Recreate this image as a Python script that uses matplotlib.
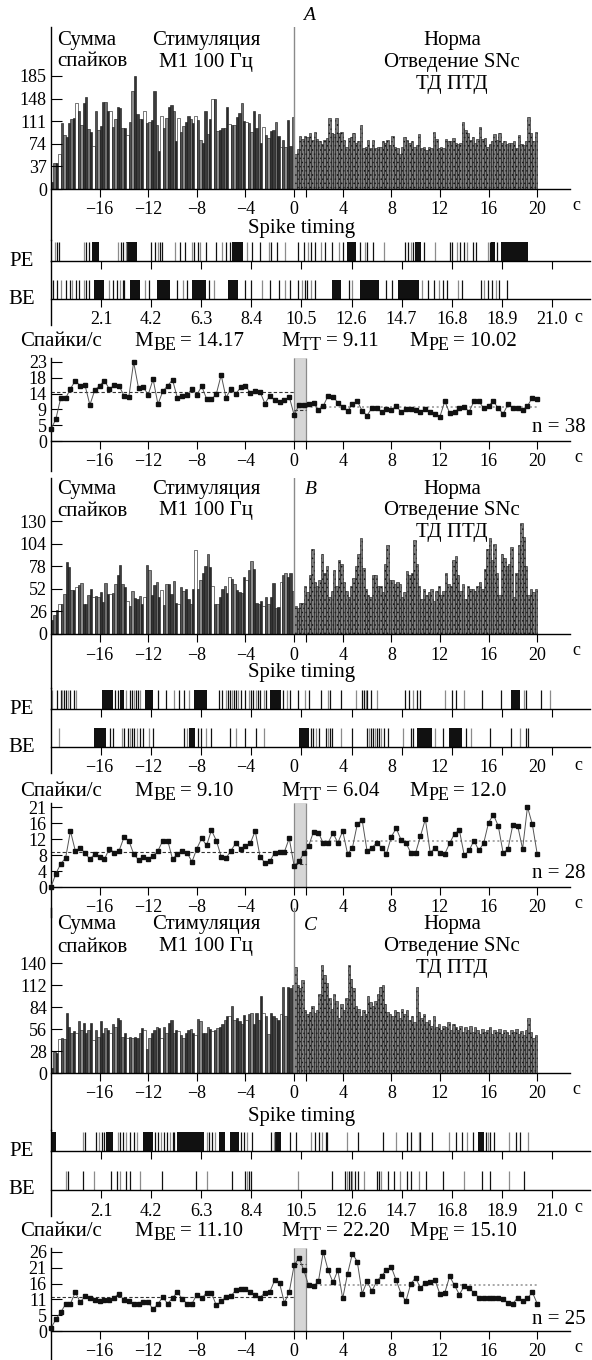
import matplotlib.pyplot as plt
import numpy as np

W, H = 592, 1360
plt.rcParams['font.family'] = ['Liberation Serif', 'DejaVu Serif']
plt.rcParams['hatch.linewidth'] = 0.6

# ---------------- data ----------------
bin_w = 0.2
hist_edges = np.round(np.arange(-20, 20, bin_w), 1)   # left edges of 200 bins
rate_t = np.round(np.arange(-20, 20.01, 0.4), 1)      # 101 points

x_ticks = [-16, -12, -8, -4, 0, 4, 8, 12, 16, 20]
x_labels = ['−16', '−12', '−8', '−4', '0', '4', '8', '12', '16', '20']
raster_ticks = [2.1, 4.2, 6.3, 8.4, 10.5, 12.6, 14.7, 16.8, 18.9, 21.0]
raster_labels_sec = ['2.1', '4.2', '6.3', '8.4', '10.5', '12.6', '14.7', '16.8', '18.9', '21.0']

# panel A
A_stim = [12, 42, 43, 58, 108, 88, 85, 108, 115, 117,
          140, 128, 105, 140, 150, 98, 93, 70, 128, 97,
          103, 143, 142, 127, 127, 102, 115, 135, 133, 100,
          100, 88, 110, 160, 185, 122, 115, 115, 128, 108,
          110, 113, 160, 105, 62, 120, 100, 117, 135, 138,
          128, 78, 116, 93, 103, 110, 120, 115, 108, 120,
          113, 80, 75, 127, 90, 115, 148, 147, 95, 97,
          100, 100, 135, 107, 105, 105, 118, 125, 140, 112,
          110, 108, 93, 128, 100, 122, 75, 102, 88, 83,
          95, 97, 110, 86, 68, 80, 68, 113, 70, 118]
A_post = [57, 66, 86, 82, 86, 85, 91, 80, 94, 82,
          78, 74, 80, 83, 116, 91, 90, 116, 91, 94,
          80, 69, 83, 85, 92, 75, 78, 104, 67, 69,
          80, 67, 80, 67, 69, 69, 78, 75, 80, 72,
          86, 69, 67, 58, 69, 85, 80, 75, 78, 69,
          72, 90, 67, 69, 64, 69, 67, 94, 82, 67,
          69, 67, 82, 79, 78, 84, 75, 74, 76, 110,
          97, 91, 80, 85, 75, 82, 101, 82, 83, 69,
          74, 78, 90, 80, 91, 75, 78, 74, 75, 76,
          78, 67, 89, 74, 72, 78, 118, 91, 78, 94]
A_yticks = [0, 37, 74, 111, 148, 185]
A_rate = [3.4, 6.4, 12.5, 12.4, 15.2, 17.6, 16.1, 16.2, 10.5, 14.8,
          16.1, 17.6, 15.1, 16.2, 16.1, 13.2, 12.7, 23.0, 15.4, 15.6,
          13.5, 18.0, 10.7, 14.5, 16.1, 17.8, 12.5, 13.2, 13.4, 15.2,
          13.5, 15.9, 12.3, 12.1, 13.7, 19.2, 12.6, 15.2, 13.7, 15.6,
          16.1, 14.0, 14.5, 14.3, 10.9, 13.2, 11.9, 11.4, 11.8, 12.9,
          7.6,
          10.4, 10.4, 10.9, 11.2, 9.0, 10.2, 13.2, 12.9, 11.2, 10.0,
          8.7, 10.7, 11.6, 8.8, 7.4, 9.6, 9.7, 8.3, 9.3, 9.0,
          10.2, 8.5, 9.3, 9.3, 9.0, 8.5, 9.3, 8.3, 7.9, 7.1,
          11.6, 8.1, 8.3, 9.7, 10.0, 8.5, 11.6, 11.6, 9.5, 10.2,
          11.6, 9.5, 7.9, 10.7, 9.7, 9.5, 9.0, 10.2, 12.6, 12.3]
A_rate_ticks = [0, 4.6, 9.2, 13.8, 18.4, 23]
A_rate_labels = ['0', '5', '9', '14', '18', '23']
A_means = [14.17, 9.11, 10.02]
A_mean_txt = ['14.17', '9.11', '10.02']
A_pe_spikes = [0.16, 0.24, 0.35, 1.38, 1.47, 1.58, 2.80, 2.93, 3.02, 3.13,
               4.19, 4.35, 4.50, 4.58, 4.66, 5.22, 5.42, 5.61, 5.93, 6.01,
               6.16, 6.24, 6.48, 6.91, 7.19, 7.32, 7.51, 8.22, 8.42, 8.77,
               9.12, 9.21, 9.48, 9.80, 10.35, 10.59, 10.79, 10.90, 11.06, 11.30,
               11.49, 11.77, 12.06, 12.25, 12.96, 13.16, 13.27, 13.51, 13.98, 14.85,
               14.96, 15.09, 15.17, 15.64, 16.12, 16.75, 16.83, 17.02, 17.14, 17.30,
               17.46, 17.70, 17.81, 18.33, 18.41, 18.72]
A_pe_bursts = [(1.70, 2.01), (3.16, 3.59), (7.59, 8.06), (12.40, 12.80),
               (15.25, 15.53), (18.45, 18.62), (18.85, 19.99)]
A_be_spikes = [0.0, 0.08, 0.27, 0.40, 0.63, 0.79, 0.90, 1.03, 1.19, 1.38,
               1.47, 1.58, 2.45, 2.61, 2.77, 2.89, 3.00, 3.08, 3.95, 4.11,
               5.30, 5.53, 5.69, 6.64, 6.84, 8.14, 8.38, 8.85, 9.17, 9.56,
               9.80, 10.03, 10.35, 10.51, 10.63, 10.75, 10.90, 11.06, 12.48, 12.64,
               14.06, 14.30, 15.56, 15.80, 16.04, 16.27, 16.43, 16.59, 17.06, 17.22,
               18.01, 18.17, 18.33, 18.49, 18.64, 18.80, 19.12]
A_be_bursts = [(1.82, 2.21), (3.32, 3.75), (4.43, 4.98), (5.93, 6.48), (7.43, 7.85),
               (11.77, 12.17), (12.96, 13.75), (14.54, 15.41)]

# panel B
B_stim = [16, 22, 28, 35, 34, 46, 83, 77, 51, 51,
          54, 56, 59, 35, 34, 45, 52, 43, 44, 42,
          48, 37, 59, 46, 46, 47, 58, 68, 79, 57,
          54, 38, 32, 50, 41, 40, 44, 35, 43, 79,
          74, 45, 56, 60, 42, 51, 33, 57, 58, 46,
          61, 36, 35, 54, 49, 52, 40, 34, 52, 97,
          52, 62, 70, 78, 92, 77, 55, 35, 34, 43,
          52, 55, 47, 66, 63, 58, 51, 48, 47, 66,
          62, 74, 84, 75, 36, 35, 38, 32, 42, 35,
          42, 59, 30, 31, 60, 68, 70, 66, 70, 49]
B_post = [32, 30, 36, 36, 55, 48, 68, 98, 60, 55,
          62, 92, 70, 78, 42, 50, 74, 55, 85, 80,
          60, 50, 42, 55, 65, 78, 92, 110, 76, 52,
          45, 42, 68, 68, 55, 55, 48, 80, 102, 62,
          62, 57, 60, 57, 42, 48, 72, 68, 70, 108,
          80, 55, 40, 52, 45, 48, 52, 38, 50, 55,
          45, 50, 70, 58, 55, 85, 90, 68, 50, 58,
          40, 55, 52, 52, 50, 55, 60, 52, 75, 98,
          110, 85, 103, 70, 45, 92, 88, 78, 80, 100,
          42, 70, 102, 128, 112, 78, 45, 52, 48, 52]
B_yticks = [0, 26, 52, 78, 104, 130]
B_rate = [0.0, 3.5, 6.1, 7.6, 14.7, 9.5, 10.3, 8.9, 7.3, 8.7,
          8.0, 7.3, 10.1, 9.0, 9.5, 13.0, 12.2, 8.7, 7.1, 7.8,
          7.4, 8.2, 9.5, 12.2, 12.2, 7.3, 8.7, 9.5, 9.0, 6.6,
          10.1, 12.8, 10.9, 14.9, 12.2, 8.0, 7.6, 9.5, 11.5, 10.1,
          10.7, 11.5, 14.7, 8.0, 6.3, 6.7, 9.0, 9.2, 9.2, 12.8,
          5.6,
          6.7, 8.9, 10.8, 14.5, 14.3, 11.5, 11.6, 14.2, 11.6, 14.7,
          8.7, 10.3, 16.5, 17.6, 9.5, 10.3, 11.6, 10.3, 8.7, 13.2,
          15.4, 12.4, 11.6, 9.0, 9.0, 13.4, 17.8, 9.0, 10.3, 8.9,
          8.7, 11.5, 14.0, 14.9, 8.3, 9.6, 12.2, 9.6, 11.5, 16.9,
          19.0, 16.0, 8.9, 10.0, 16.4, 16.0, 10.0, 21.0, 16.5, 8.7]
B_rate_ticks = [0, 4.2, 8.4, 12.6, 16.8, 21]
B_rate_labels = ['0', '4', '8', '12', '16', '21']
B_means = [9.10, 6.04, 12.0]
B_mean_txt = ['9.10', '6.04', '12.0']
B_pe_spikes = [0.03, 0.24, 0.40, 0.48, 0.56, 0.63, 0.71, 0.79, 0.95, 1.03,
               2.69, 2.80, 3.16, 3.32, 3.40, 3.48, 3.56, 3.64, 3.72, 4.50,
               4.82, 5.14, 5.37, 5.58, 5.77, 7.03, 7.19, 7.35, 7.43, 7.51,
               7.59, 7.66, 7.74, 7.82, 7.98, 8.14, 8.30, 8.38, 8.49, 8.61,
               8.69, 8.77, 8.93, 9.01, 9.72, 9.88, 10.03, 10.35, 10.67, 10.82,
               11.30, 11.61, 11.69, 12.17, 12.80, 13.04, 13.11, 13.19, 13.27, 13.43,
               13.67, 14.85, 15.01, 15.17, 15.33, 15.48, 16.51, 16.80, 16.99, 17.30,
               18.09, 18.88, 19.83, 19.91, 20.54, 20.93]
B_pe_bursts = [(2.14, 2.61), (2.89, 3.08), (3.95, 4.27), (6.01, 6.53), (9.17, 9.64),
               (19.28, 19.67)]
B_be_spikes = [0.32, 2.48, 2.61, 2.96, 3.08, 3.24, 3.32, 3.40, 3.48, 3.59,
               3.72, 3.84, 4.11, 4.27, 5.58, 5.69, 6.16, 6.27, 6.48, 6.72,
               7.51, 7.74, 8.14, 8.61, 8.93, 10.90, 10.98, 11.11, 11.22, 11.54,
               11.61, 11.69, 11.77, 12.17, 12.64, 13.27, 13.35, 13.43, 13.51, 13.59,
               13.67, 13.75, 13.83, 13.95, 14.14, 14.77, 15.09, 15.17, 16.12, 16.43,
               17.38, 17.59, 18.41, 19.28, 19.67, 19.91, 19.99]
B_be_bursts = [(1.79, 2.29), (5.77, 6.05), (10.38, 10.82), (15.33, 15.96), (16.67, 17.22)]

# panel C
C_stim = [6, 27, 25, 43, 45, 43, 76, 59, 51, 53,
          51, 66, 55, 64, 51, 55, 64, 42, 55, 46,
          66, 51, 57, 55, 51, 63, 59, 70, 68, 46,
          51, 45, 46, 45, 46, 45, 51, 57, 55, 31,
          45, 51, 55, 59, 57, 44, 59, 51, 64, 68,
          51, 55, 53, 49, 44, 51, 55, 56, 51, 49,
          69, 66, 51, 51, 59, 56, 53, 55, 57, 59,
          63, 68, 72, 73, 85, 68, 70, 66, 63, 74,
          68, 75, 76, 63, 76, 68, 98, 76, 72, 50,
          76, 72, 70, 68, 75, 110, 72, 110, 108, 112]
C_post = [135, 112, 108, 118, 80, 75, 78, 85, 76, 80,
          100, 138, 125, 115, 95, 82, 100, 92, 70, 88,
          80, 96, 138, 120, 108, 85, 82, 72, 80, 75,
          98, 90, 85, 92, 100, 110, 112, 88, 78, 75,
          72, 80, 78, 70, 82, 75, 80, 68, 72, 65,
          110, 78, 70, 75, 65, 68, 60, 72, 58, 62,
          55, 60, 58, 65, 55, 62, 58, 55, 60, 52,
          58, 55, 60, 52, 58, 55, 50, 56, 52, 55,
          58, 50, 55, 52, 56, 50, 55, 52, 48, 55,
          52, 56, 50, 54, 48, 55, 70, 52, 45, 48]
C_yticks = [0, 28, 56, 84, 112, 140]
C_rate = [1.0, 3.8, 6.2, 8.8, 9.0, 12.8, 9.5, 11.4, 11.0, 10.3,
          9.8, 10.1, 10.1, 11.0, 12.3, 10.1, 9.8, 8.8, 8.8, 9.5,
          9.5, 7.1, 9.0, 11.1, 9.0, 10.9, 12.8, 10.5, 9.0, 9.0,
          12.0, 10.7, 12.6, 12.6, 8.4, 9.8, 11.2, 11.5, 13.4, 13.9,
          13.9, 13.0, 11.7, 11.0, 12.6, 12.8, 16.7, 15.8, 9.3, 12.8,
          21.6,
          24.1, 20.0, 15.0, 14.8, 16.3, 26.0, 20.0, 16.0, 20.0, 10.7,
          18.9, 25.5, 22.8, 12.3, 16.3, 13.2, 16.3, 18.2, 20.0, 21.0,
          16.7, 12.3, 9.8, 15.6, 17.5, 14.1, 15.9, 16.1, 16.7, 12.1,
          12.6, 18.0, 15.0, 12.0, 14.8, 14.1, 12.6, 11.0, 10.9, 11.0,
          10.9, 10.9, 10.5, 9.3, 9.0, 11.0, 9.8, 10.7, 12.8, 9.0]
C_rate_ticks = [0, 5.2, 10.4, 15.6, 20.8, 26]
C_rate_labels = ['0', '5', '11', '16', '21', '26']
C_means = [11.10, 22.20, 15.10]
C_mean_txt = ['11.10', '22.20', '15.10']
C_pe_spikes = [1.35, 1.42, 1.90, 2.01, 2.14, 2.21, 2.80, 2.89, 3.00, 3.16,
               3.32, 3.48, 3.59, 4.35, 4.50, 4.63, 4.74, 4.85, 4.98, 5.11,
               5.17, 6.53, 6.64, 6.75, 6.87, 7.98, 8.11, 8.22, 8.42, 9.24,
               9.37, 10.03, 10.27, 10.90, 11.06, 11.22, 11.38, 11.54, 11.58, 12.40,
               12.88, 13.90, 14.46, 14.93, 15.09, 15.41, 15.48, 15.96, 16.67, 16.99,
               17.22, 17.46, 17.70, 18.25, 18.33, 18.41, 18.57, 19.20, 19.51, 19.67,
               19.99]
C_pe_bursts = [(0.0, 0.21), (2.32, 2.61), (3.87, 4.27), (5.30, 6.40), (7.03, 7.30),
               (7.50, 7.90), (9.40, 9.64), (17.90, 18.17)]
C_be_spikes = [0.63, 0.71, 1.35, 1.79, 2.53, 2.77, 2.89, 3.16, 3.32, 3.72,
               4.66, 6.08, 6.53, 7.59, 8.14, 8.22, 8.30, 8.38, 10.35, 11.77,
               12.33, 12.40, 12.48, 12.56, 12.64, 12.75, 12.88, 13.11, 13.67, 13.75,
               13.83, 14.14, 14.38, 14.62, 14.93, 15.09, 15.41, 15.72, 16.43, 17.30,
               18.09, 18.41, 19.20, 19.83]
C_be_bursts = []

# ---------------- layout (pixels of the 592x1360 image) ----------------
X0, X1, XR = 51, 570, 590
HX = (-20, 22.7)     # time axis of histogram / rate plots
RX = (0, 22.6)       # time axis of the rasters
GA = dict(h_top=27, h_zero=189, h_lab=76, st=228, pe=261, be=299, l_top=362, l_zero=441,
          title=40, letter=(309, 15), spk=341, n_y=428)
GB = dict(h_top=478, h_zero=634, h_lab=521, st=673, pe=709, be=747, l_top=807, l_zero=887,
          title=489, letter=(311, 489), spk=791, n_y=874)
GC = dict(h_top=908, h_zero=1073, h_lab=963, st=1117, pe=1151, be=1190, l_top=1252, l_zero=1331,
          title=925, letter=(310, 925), spk=1231, n_y=1319)

TICK_FS = 13
TXT_FS = 15
STIM_SHADES = ['#3c3c3c', '#6e6e6e', '#2a2a2a', '#ffffff', '#505050', '#8a8a8a', '#333333']

fig = plt.figure(figsize=(W / 100, H / 100), dpi=100)
renderer = fig.canvas.get_renderer()


def box(left, top, right, bottom):
    return [left / W, 1 - bottom / H, (right - left) / W, (bottom - top) / H]


def put(x, y, s, **kw):
    kw.setdefault('fontsize', TXT_FS)
    kw.setdefault('va', 'center')
    return fig.text(x / W, 1 - y / H, s, **kw)


def put_mean(x, y, sub, value):
    # "M" with a large lowered subscript, then "= value"
    t = put(x, y, 'M', ha='left')
    x2 = t.get_window_extent(renderer).x1
    s = put(x2 + 0.5, y + 5, sub, ha='left', fontsize=13)
    x3 = s.get_window_extent(renderer).x1
    put(x3 + 4, y, '= ' + value, ha='left')


def clean(ax):
    ax.set_facecolor('none')
    ax.spines['top'].set_visible(False)
    ax.spines['right'].set_visible(False)
    ax.spines['left'].set_linewidth(1.0)
    ax.spines['bottom'].set_linewidth(1.0)


def raster(ax, spikes, bursts):
    cols = ['#8c8c8c' if i % 3 == 0 else '#111111' for i in range(len(spikes))]
    ax.vlines(spikes, 0, 1, colors=cols, lw=0.9)
    if bursts:
        ax.broken_barh([(s, e - s) for s, e in bursts], (0, 1), facecolors='#111111')
    ax.set_xlim(*RX)
    ax.set_yticks([])
    ax.set_xticks(raster_ticks)
    ax.tick_params(axis='x', direction='out', length=6, width=0.8, labelsize=TICK_FS, pad=3)


def panel(g, stim, post, yticks, pe_sp, pe_bu, be_sp, be_bu, r_labels,
          rate, r_ticks, r_labels_y, means, mean_txt, n, letter):
    # --- histogram of spike sums
    sc = (g['h_zero'] - g['h_lab']) / yticks[-1]
    h_bot = g['pe'] - 21
    ymax = (g['h_zero'] - g['h_top']) / sc
    ax = fig.add_axes(box(X0, g['h_top'], X1, h_bot))
    clean(ax)
    ax.bar(hist_edges[:100], stim, width=bin_w, align='edge',
           color=[STIM_SHADES[i % len(STIM_SHADES)] for i in range(len(stim))],
           edgecolor='#111111', linewidth=0.4)
    ax.bar(hist_edges[100:], post, width=bin_w, align='edge', color='#7c7c7c',
           edgecolor='#141414', hatch='....', linewidth=0.4)
    ax.plot([0, 0], [0, ymax], color='#8a8a8a', lw=1.0)
    ax.set_xlim(*HX)
    ax.set_ylim(-(h_bot - g['h_zero']) / sc, ymax)
    ax.spines['bottom'].set_position(('data', 0))
    ax.set_xticks(x_ticks)
    ax.set_xticklabels(x_labels)
    ax.set_xticks([1], minor=True)
    ax.set_yticks(yticks)
    ax.tick_params(axis='x', which='both', direction='out', length=6, width=0.8,
                   labelsize=TICK_FS, pad=3)
    ax.tick_params(axis='y', direction='in', length=8, width=0.8, labelsize=TICK_FS, pad=3)
    put(576, g['h_zero'] + 16, 'c', ha='center', fontsize=TICK_FS)

    # --- titles
    ty = g['title']
    put(57, ty, 'Сумма', ha='left')
    put(57, ty + 22, 'спайков', ha='left')
    put(206, ty, 'Стимуляция', ha='center')
    put(206, ty + 22, 'M1 100 Гц', ha='center')
    put(452, ty, 'Норма', ha='center')
    put(452, ty + 22, 'Отведение SNc', ha='center')
    put(452, ty + 44, 'ТД ПТД', ha='center')
    put(g['letter'][0], g['letter'][1], letter, ha='center', fontstyle='italic', fontsize=14)
    put(302, g['st'], 'Spike timing', ha='center')

    # --- rasters
    bh = 19.0
    axp = fig.add_axes(box(X0, g['pe'] - 21, XR, g['pe']))
    clean(axp)
    raster(axp, pe_sp, pe_bu)
    axp.set_ylim(0, 21 / bh)
    axp.set_xticklabels([])
    axb = fig.add_axes(box(X0, g['pe'], XR, g['be'] + 26))
    clean(axb)
    raster(axb, be_sp, be_bu)
    axb.set_ylim(-26 / bh, (g['be'] - g['pe']) / bh)
    axb.spines['bottom'].set_position(('data', 0))
    if r_labels is x_labels:
        # labels written under the time positions of the plots above
        k = ((X1 - X0) / (HX[1] - HX[0])) * ((RX[1] - RX[0]) / (XR - X0))
        axb.set_xticklabels([])
        axb.set_xticks([(x - HX[0]) * k for x in x_ticks], minor=True)
        axb.set_xticklabels(x_labels, minor=True)
        axb.tick_params(axis='x', which='minor', length=0, labelsize=TICK_FS, pad=9)
    else:
        axb.set_xticklabels(r_labels)
    put(22, g['pe'], 'PE', ha='center', fontsize=TXT_FS)
    put(22, g['be'], 'BE', ha='center', fontsize=TXT_FS)
    put(578, g['be'] + 18, 'c', ha='center', fontsize=TICK_FS)

    # --- rate line
    top_v = r_ticks[-1]
    lsc = (g['l_zero'] - g['l_top']) / top_v
    axl = fig.add_axes(box(X0, g['l_top'] - 4, X1, g['l_zero'] + 30))
    clean(axl)
    axl.fill_between([0, 1], 0, top_v + 4 / lsc, color='#d6d6d6', lw=0, zorder=0)
    axl.vlines([0, 1], 0, top_v + 4 / lsc, colors='#8a8a8a', lw=0.9, zorder=1)
    axl.plot([-20, 0], [means[0], means[0]], color='#333333', lw=0.8, dashes=(3, 2))
    axl.plot([0, 1], [means[1], means[1]], color='#333333', lw=0.8, dashes=(3, 2))
    axl.plot([1, 20], [means[2], means[2]], color='#9a9a9a', lw=1.2, dashes=(1.2, 1.6))
    axl.plot(rate_t, rate, '-', color='#555555', lw=0.7, marker='s', ms=3.0,
             mfc='#111111', mec='#111111', clip_on=False, zorder=3)
    axl.set_xlim(*HX)
    axl.set_ylim(-30 / lsc, top_v + 4 / lsc)
    axl.spines['bottom'].set_position(('data', 0))
    axl.set_xticks(x_ticks)
    axl.set_xticklabels(x_labels)
    axl.set_xticks([1], minor=True)
    axl.set_yticks(r_ticks)
    axl.set_yticklabels(r_labels_y)
    axl.tick_params(axis='x', which='both', direction='out', length=6, width=0.8,
                    labelsize=TICK_FS, pad=3)
    axl.tick_params(axis='y', direction='in', length=8, width=0.8, labelsize=TICK_FS, pad=3)
    put(578, g['l_zero'] + 16, 'c', ha='center', fontsize=TICK_FS)

    sy = g['spk']
    put(20, sy, 'Спайки/с', ha='left')
    put_mean(134, sy, 'BE', mean_txt[0])
    put_mean(281, sy, 'TT', mean_txt[1])
    put_mean(409, sy, 'PE', mean_txt[2])
    put(586, g['n_y'], 'n = %d' % n, ha='right')


panel(GA, A_stim, A_post, A_yticks, A_pe_spikes, A_pe_bursts, A_be_spikes, A_be_bursts,
      raster_labels_sec, A_rate, A_rate_ticks, A_rate_labels, A_means, A_mean_txt, 38, 'A')
panel(GB, B_stim, B_post, B_yticks, B_pe_spikes, B_pe_bursts, B_be_spikes, B_be_bursts,
      x_labels, B_rate, B_rate_ticks, B_rate_labels, B_means, B_mean_txt, 28, 'B')
panel(GC, C_stim, C_post, C_yticks, C_pe_spikes, C_pe_bursts, C_be_spikes, C_be_bursts,
      raster_labels_sec, C_rate, C_rate_ticks, C_rate_labels, C_means, C_mean_txt, 25, 'C')

fig.savefig('out.png', dpi=100)
